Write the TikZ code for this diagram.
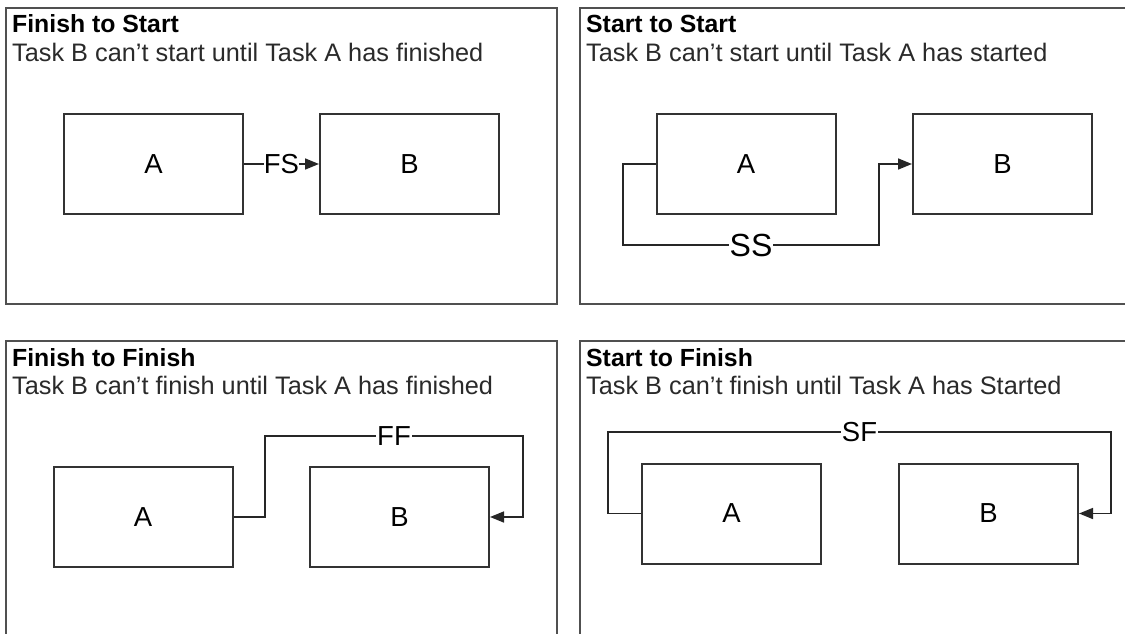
\documentclass[tikz,border=0pt]{standalone}
\usepackage{fontspec}
\setmainfont{Liberation Sans}
\usetikzlibrary{arrows.meta}
\definecolor{framec}{HTML}{505050}
\definecolor{boxc}{HTML}{333333}
\definecolor{subc}{HTML}{2A2A2A}
\tikzset{
  frame/.style={draw=framec, line width=2pt},
  taskbox/.style={draw=boxc, line width=2pt, minimum width=179pt, minimum height=100pt, inner sep=0pt, font=\fontsize{27.5}{30}\selectfont},
  conn/.style={draw=black!85, line width=1.6pt, -{Triangle[length=14pt,width=11pt]}},
  lbl/.style={fill=white, inner sep=1pt, font=\fontsize{27.5}{30}\selectfont},
  ttl/.style={anchor=base west, inner sep=0pt, font=\fontsize{24.8}{28}\selectfont\bfseries},
  sub/.style={anchor=base west, inner sep=0pt, text=subc, font=\fontsize{25.3}{28}\selectfont},
}
\begin{document}
\begin{tikzpicture}[x=1pt, y=-1pt]
\useasboundingbox (0,0) rectangle (1125,634);
\clip (0,0) rectangle (1125,634);
\fill[white] (0,0) rectangle (1125,634);
% frames
\draw[frame] (5.5,8) rectangle (557,304);
\draw[frame] (580,8) rectangle (1140,304);
\draw[frame] (5.5,341) rectangle (557,650);
\draw[frame] (580,341) rectangle (1140,650);
% titles
\node[ttl] (t1) at (12,33) {Finish to Start};
\node[sub] (s1) at (12,62) {Task B can’t start until Task A has finished};
\node[ttl] (t2) at (586,33) {Start to Start};
\node[sub] (s2) at (586,62) {Task B can’t start until Task A has started};
\node[ttl] (t3) at (12,366) {Finish to Finish};
\node[sub] (s3) at (12,394) {Task B can’t finish until Task A has finished};
\node[ttl] (t4) at (586,366) {Start to Finish};
\node[sub] (s4) at (586,394) {Task B can’t finish until Task A has Started};
% panel 1
\node[taskbox] (A1) at (153.5,164) {A};
\node[taskbox] (B1) at (409.5,164) {B};
\draw[conn] (A1.east) -- node[lbl, inner sep=0pt]{FS} (B1.west);
% panel 2
\node[taskbox] (A2) at (746,164) {A};
\node[taskbox] (B2) at (1002.5,164) {B};
\coordinate (p21) at (623,164);
\coordinate (p22) at (623,245);
\coordinate (p23) at (879,245);
\coordinate (p24) at (879,164);
\draw[conn] (A2.west) -- (p21) -- (p22) -- node[lbl, font=\fontsize{32}{34}\selectfont]{SS} (p23) -- (p24) -- (B2.west);
% panel 3
\node[taskbox] (A3) at (143,517) {A};
\node[taskbox] (B3) at (399.5,517) {B};
\coordinate (p31) at (265,517);
\coordinate (p32) at (265,436);
\coordinate (p33) at (523,436);
\coordinate (p34) at (523,517);
\draw[conn] (A3.east) -- (p31) -- (p32) -- node[lbl]{FF} (p33) -- (p34) -- (B3.east);
% panel 4
\node[taskbox] (A4) at (731.5,513.5) {A};
\node[taskbox] (B4) at (988.5,513.5) {B};
\coordinate (p41) at (608,513.5);
\coordinate (p42) at (608,432);
\coordinate (p43) at (1111,432);
\coordinate (p44) at (1111,513.5);
\draw[conn] (A4.west) -- (p41) -- (p42) -- node[lbl]{SF} (p43) -- (p44) -- (B4.east);
\end{tikzpicture}
\end{document}
